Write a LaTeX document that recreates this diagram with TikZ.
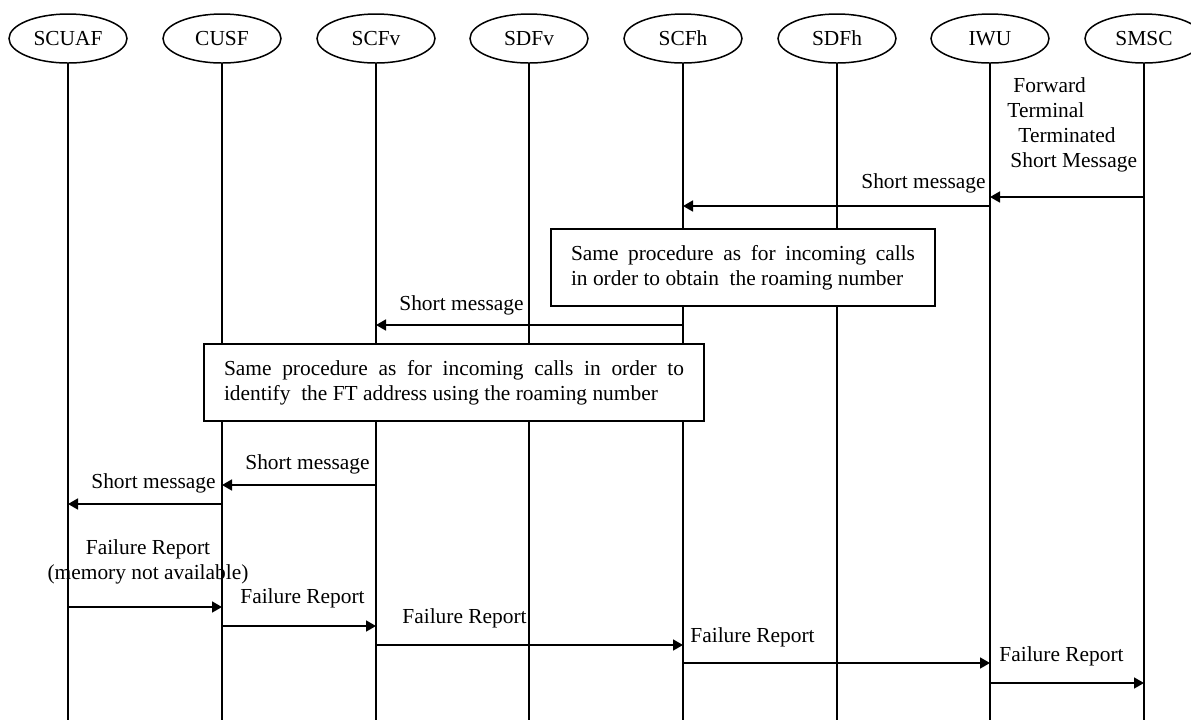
\documentclass[tikz,border=0pt]{standalone}
\usepackage{fontspec}
\setmainfont{Liberation Serif}
\usetikzlibrary{shapes, positioning, calc, arrows.meta}

\begin{document}
\begin{tikzpicture}[x=0.5pt, y=-0.5pt, font=\fontsize{10.7}{12.4}\selectfont,
	entity/.style={draw, ellipse, line width=0.75pt, minimum width=59pt, minimum height=24.5pt, inner sep=0pt},
	life/.style={line width=0.85pt},
	msg/.style={line width=0.85pt, -{Triangle[length=5pt, width=5.5pt]}},
	procbox/.style={draw, fill=white, line width=0.85pt, inner xsep=10pt, inner ysep=0pt, minimum height=38.5pt, align=justify},
	lbl/.style={inner sep=0pt}]
	
	\useasboundingbox (0,0) rectangle (1191,720);
	
	%//entities and lifelines
	\foreach \nm/\txt/\x in {scuaf/SCUAF/68, cusf/CUSF/222, scfv/SCFv/376, sdfv/SDFv/529, scfh/SCFh/683, sdfh/SDFh/837, iwu/IWU/990, smsc/SMSC/1144}
	{
		\node [entity] (\nm) at (\x, 38.5) {\txt};
		\coordinate (\nm-end) at (\x, 720);
		\draw [life] (\nm.south) -- (\nm-end);
	}
	
	%//messages
	\foreach \from/\to/\y [count=\i] in {smsc/iwu/197, iwu/scfh/206, scfh/scfv/325, scfv/cusf/485, cusf/scuaf/504, scuaf/cusf/607, cusf/scfv/626, scfv/scfh/645, scfh/iwu/663, iwu/smsc/683}
	{
		\coordinate (m\i) at (0,\y);
		\draw [msg] (\from |- m\i) -- (\to |- m\i);
	}
	
	\node [lbl, anchor=west, align=left] (l1) at (1007,125) {\hspace{3pt}Forward\\Terminal\\\hspace{5.5pt}Terminated\\\hspace{1.5pt}Short Message};
	\node [lbl, anchor=east] (l2) at (986,183) {Short message};
	\node [lbl, anchor=east] (l3) at (524,305) {Short message};
	\node [lbl, anchor=east] (l4) at (370,464) {Short message};
	\node [lbl, anchor=east] (l5) at (216,483) {Short message};
	\node [lbl, align=center] (l6) at (148,562) {Failure Report\\(memory not available)};
	\node [lbl, anchor=west] (l7) at (240,598) {Failure Report};
	\node [lbl, anchor=west] (l8) at (402,618) {Failure Report};
	\node [lbl, anchor=west] (l9) at (690,637) {Failure Report};
	\node [lbl, anchor=west] (l10) at (999,656) {Failure Report};
	
	%//procedure boxes
	\node [procbox, text width=172pt] (roam) at (743,267.5) {Same procedure as for incoming calls\linebreak in order to obtain\ \ the roaming number};
	\node [procbox, text width=230pt] (ftaddr) at (454,382.5) {Same procedure as for incoming calls in order to\linebreak identify\ \ the FT address using the roaming number};
	
\end{tikzpicture}
\end{document}
